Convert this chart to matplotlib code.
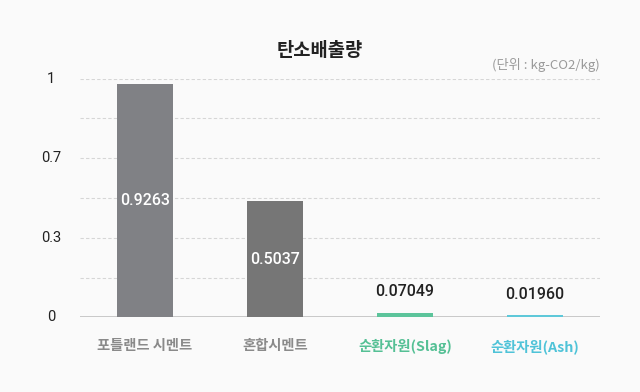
import matplotlib.pyplot as plt

plt.rcParams['font.family'] = ['Noto Sans CJK KR', 'DejaVu Sans']

# 데이터
categories = ['포틀랜드 시멘트', '혼합시멘트', '순환자원(Slag)', '순환자원(Ash)']
bar_values = [0.978, 0.487, 0.019, 0.0096]
value_labels = ['0.9263', '0.5037', '0.07049', '0.01960']
bar_colors = ['#808185', '#767676', '#5cc49b', '#5ec8d9']
label_colors = ['#8a8a8a', '#8a8a8a', '#55c095', '#4fc3d8']
y_ticks = [0, 1 / 3, 2 / 3, 1]
y_tick_labels = ['0', '0.3', '0.7', '1']
y_minor = [1 / 6, 1 / 2, 5 / 6]

num_font = ['Roboto', 'Noto Sans CJK KR']
bg = '#fafafa'
fig = plt.figure(figsize=(6.4, 3.92), dpi=100, facecolor=bg)
ax = fig.add_axes([80 / 640, 74.7 / 392, 520 / 640, 238.6 / 392])
ax.set_facecolor(bg)

x = range(len(categories))
bars = ax.bar(x, bar_values, width=0.43, color=bar_colors, zorder=5)

ax.set_xlim(-0.5, len(categories) - 0.5)
ax.set_ylim(0, 1)

# 그리드
for y in y_ticks[1:] + y_minor:
    ax.axhline(y, color='#d6d6d6', linewidth=0.8, linestyle=(0, (3, 2)), zorder=1)
ax.axhline(0, color='#c4c4c4', linewidth=1.3, zorder=4)

for s in ax.spines.values():
    s.set_visible(False)
ax.set_yticks([])
ax.set_xticks([])

# y축 라벨
for y, lab in zip(y_ticks, y_tick_labels):
    ax.text(-0.725, y, lab, ha='center', va='center', fontsize=10.5,
            color='#222222', family=num_font)

# x축 라벨
for i, (cat, c) in enumerate(zip(categories, label_colors)):
    ax.annotate(cat, (i, 0), xytext=(0, -21), textcoords='offset points',
                ha='center', va='center', fontsize=10.3, color=c, fontweight='bold')

# 값 라벨
for i, (v, lab) in enumerate(zip(bar_values, value_labels)):
    if v > 0.2:
        ax.text(i, v / 2, lab, ha='center', va='center', fontsize=11.5,
                color='white', fontweight='medium', family=num_font, zorder=6)
    else:
        ax.annotate(lab, (i, v), xytext=(0, 15), textcoords='offset points',
                    ha='center', va='center', fontsize=11.5, color='#222222',
                    fontweight='medium', family=num_font)

fig.text(0.5, 1 - 50 / 392, '탄소배출량', ha='center', va='center',
         fontsize=13.5, fontweight='bold', color='#222222')
fig.text(600 / 640, 1 - 65 / 392, '(단위 : kg-CO2/kg)', ha='right', va='center',
         fontsize=9.5, color='#9a9a9a')

plt.savefig('out.png', dpi=100, facecolor=bg)
